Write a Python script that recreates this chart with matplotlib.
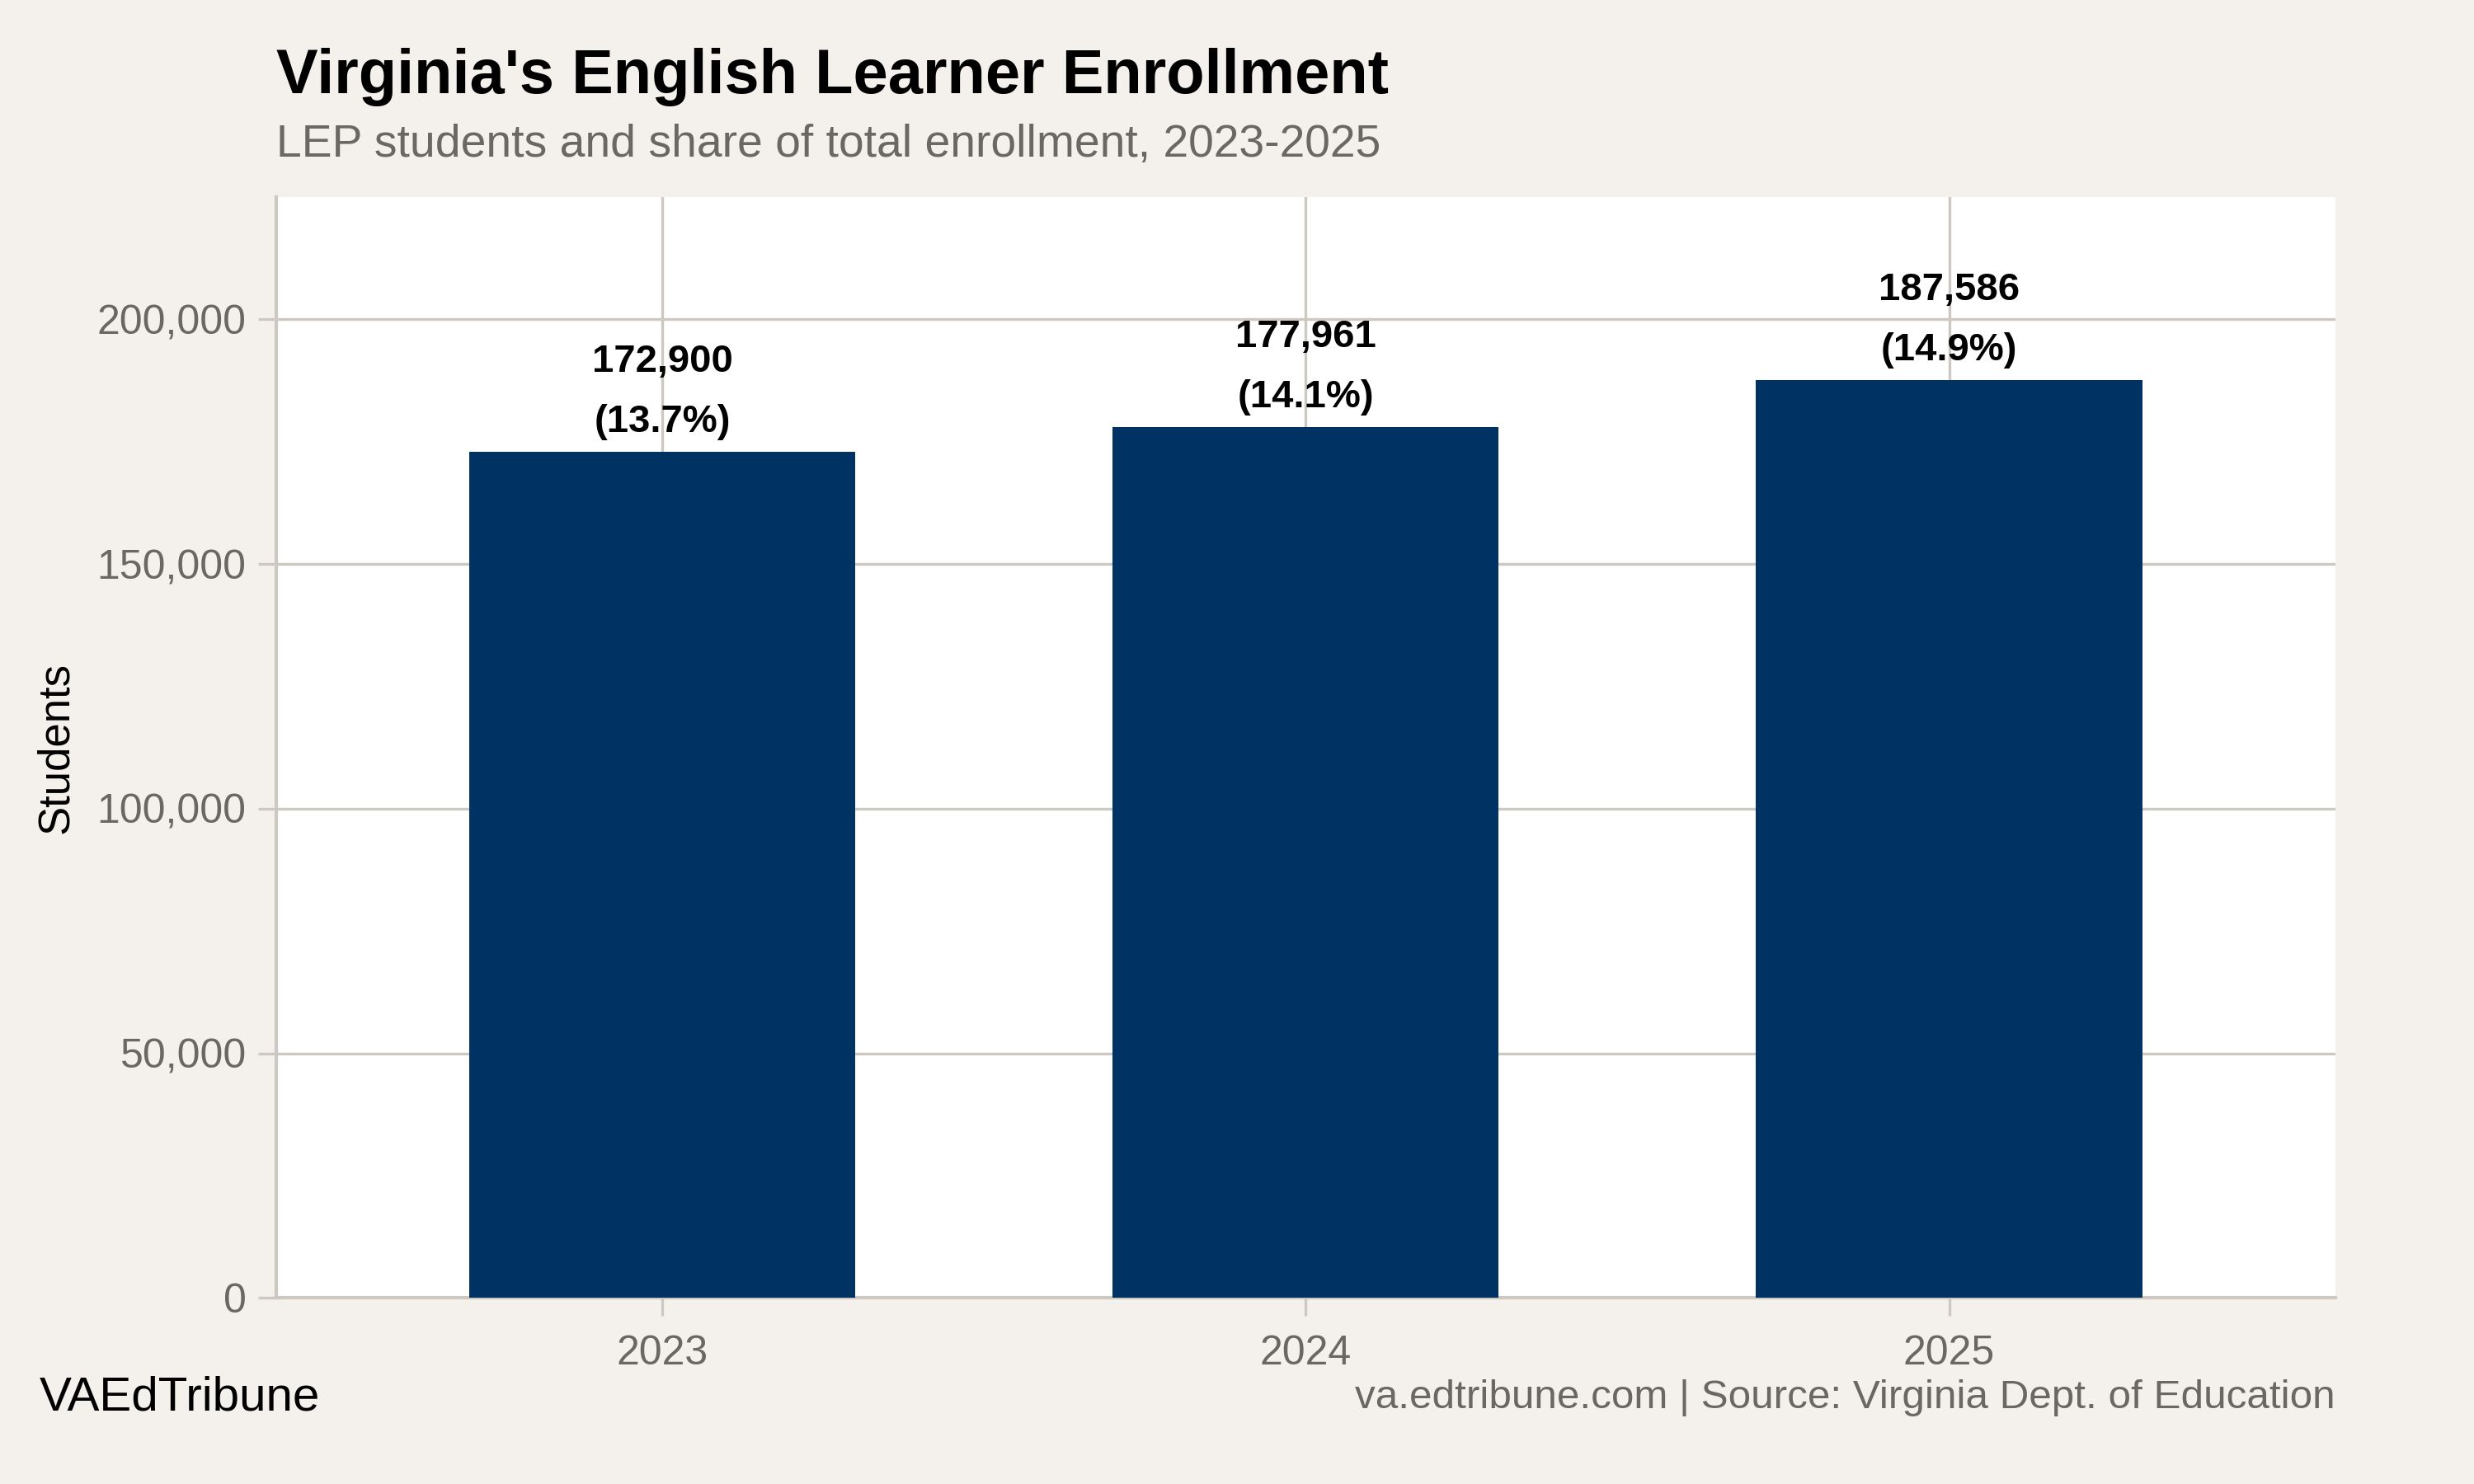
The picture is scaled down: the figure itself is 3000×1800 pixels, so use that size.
import matplotlib
matplotlib.use('Agg')
import matplotlib.pyplot as plt
from matplotlib.ticker import FuncFormatter

years = ['2023', '2024', '2025']
students = [172900, 177961, 187586]
shares = [13.7, 14.1, 14.9]

bg = '#f4f1ec'
navy = '#003263'
grid = '#cdc9c1'
gray = '#6b6862'

plt.rcParams['font.family'] = ['Liberation Sans', 'DejaVu Sans']

fig = plt.figure(figsize=(15, 9), dpi=200, facecolor=bg)
ax = fig.add_axes([0.1116, 0.1254, 0.8323, 0.7418])
ax.set_facecolor('white')

x = list(range(len(years)))
ax.bar(x, students, width=0.6, color=navy, zorder=3)

# value + share label above each bar
for xi, v, s in zip(x, students, shares):
    ax.annotate(f"{v:,}\n({s}%)", (xi, v), xytext=(0, 5), textcoords='offset points',
                ha='center', va='bottom', fontsize=17, fontweight='bold',
                linespacing=1.85, zorder=4)

ax.set_xlim(-0.6, 2.6)
ax.set_ylim(0, 225000)
ax.set_xticks(x)
ax.set_xticklabels(years)
ax.set_yticks([0, 50000, 100000, 150000, 200000])
ax.yaxis.set_major_formatter(FuncFormatter(lambda v, p: f"{int(v):,}"))
ax.grid(True, color=grid, linewidth=1.2, zorder=0)
ax.set_axisbelow(True)

for side in ['top', 'right']:
    ax.spines[side].set_visible(False)
for side in ['left', 'bottom']:
    ax.spines[side].set_color(grid)
    ax.spines[side].set_linewidth(1.5)
ax.tick_params(axis='both', colors=grid, labelcolor=gray, labelsize=18, length=8, width=1.2)
ax.tick_params(axis='x', pad=8)
ax.tick_params(axis='y', pad=5)
ax.set_ylabel('Students', fontsize=19, color='black', labelpad=9)

fig.text(0.1116, 0.948, "Virginia's English Learner Enrollment", fontsize=27.3,
         fontweight='bold', ha='left', va='center')
fig.text(0.1116, 0.902, "LEP students and share of total enrollment, 2023-2025",
         fontsize=19.9, color=gray, ha='left', va='center')
fig.text(0.016, 0.058, "VAEdTribune", fontsize=21, ha='left', va='center')
fig.text(0.9439, 0.058, "va.edtribune.com | Source: Virginia Dept. of Education",
         fontsize=17.8, color=gray, ha='right', va='center')

fig.savefig('out.png', dpi=200, facecolor=bg)
